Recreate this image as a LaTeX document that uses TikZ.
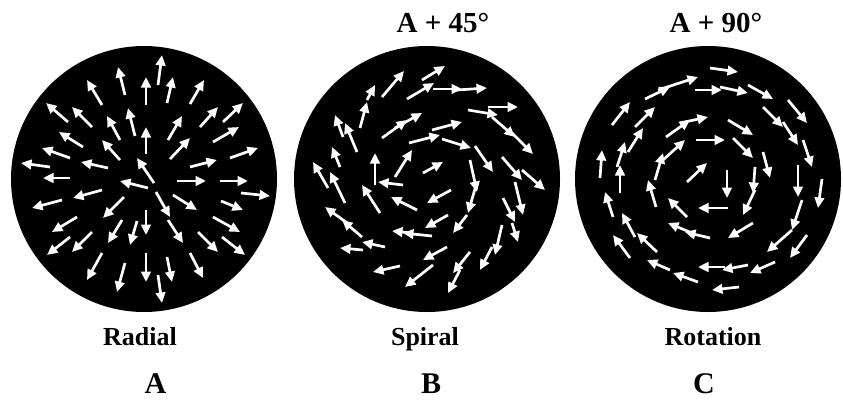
\documentclass[tikz,border=0pt]{standalone}
\usepackage{fontspec}
\setmainfont{Liberation Serif}
\usetikzlibrary{arrows.meta}
\tikzset{
  disc/.style={circle, fill=black, draw=none, minimum size=266pt, inner sep=0pt},
  vec/.style={draw=white, line width=2.7pt, -{Triangle[length=10.5pt,width=9.5pt]}},
  lbl/.style={font=\fontsize{26}{30}\selectfont\bfseries, anchor=base, inner sep=0pt},
  ttl/.style={font=\fontsize{29}{32}\selectfont\bfseries, anchor=base, inner sep=0pt},
  let/.style={font=\fontsize{30}{34}\selectfont\bfseries, anchor=base, inner sep=0pt}
}
\begin{document}
\begin{tikzpicture}[x=1pt,y=-1pt]
\useasboundingbox (0,0) rectangle (843,399);
\fill[white] (0,0) rectangle (843,399);
\node[disc] (discA) at (144,179) {};
\node[disc] (discB) at (427,179) {};
\node[disc] (discC) at (708,179) {};
% Radial
\foreach \a/\b/\c/\d in {158/85/162/55,125/95/118/67,146/105/146/77,167/103/173/77,102/105/87/80,190/104/204/80,68/122/46/103,92/127/72/107,223/122/243/103,200/127/218/107,135/136/128/108,120/140/107/116,146/154/146/127,168/140/182/116,83/147/59/132,213/142/239/127,120/160/102/140,170/159/190/138,70/158/42/148,230/158/258/148,50/167/21/163,108/168/81/162,154/183/137/158,190/167/217/160,70/178/43/178,148/188/120/181,177/181/206/181,220/181/248/181,241/193/270/196,62/200/32/208,102/190/73/198,173/195/197/210,156/192/170/217,221/201/243/210,124/197/103/218,146/210/146/235,77/217/52/232,213/217/240/232,122/220/108/243,137/221/130/245,168/220/183/243,70/237/47/255,92/232/72/252,198/232/218/252,222/237/245/255,102/253/87/280,146/253/146/282,167/257/172/282,190/253/203/278,125/263/117/292,158/275/162/303}
  \draw[vec] (\a,\b) -- (\c,\d);
% Spiral
\foreach \a/\b/\c/\d in {422/80/445/66,382/97/404/71,407/99/434/83,433/89/462/89,457/90/487/88,360/128/367/102,367/100/375/85,343/137/335/115,357/152/345/123,488/107/518/107,468/110/498/115,382/138/407/120,395/128/422/113,432/130/462/122,409/143/440/135,442/139/471/148,492/117/515/137,512/133/533/154,340/167/332/147,328/188/313/162,375/185/375/153,395/177/412/150,423/173/443/162,475/146/493/172,502/157/522/180,522/170/545/190,403/185/378/182,345/203/330/172,380/213/362/185,417/210/391/197,451/190/427/203,470/160/477/192,477/182/468/213,515/182/523/215,503/198/515/222,512/223/518/242,467/215/453/233,448/215/425/228,432/236/403/233,412/233/392/231,362/237/342/220,350/225/325/207,385/247/362/242,363/250/340/248,447/247/423/260,400/266/373/272,433/265/405/287,470/252/453/273,460/270/448/293,502/225/495/255,492/247/480/270}
  \draw[vec] (\a,\b) -- (\c,\d);
% Rotation
\foreach \a/\b/\c/\d in {710/68/738/72,645/99/670/87,658/90/698/77,695/90/722/90,720/87/748/93,748/85/773/99,612/125/630/102,635/127/655/107,763/107/783/127,788/100/807/123,666/137/690/120,680/123/708/117,728/120/753/135,628/152/643/128,617/167/625/142,696/140/725/140,783/122/798/145,733/138/753/158,803/140/812/167,663/160/685/140,655/180/663/153,687/182/707/163,727/170/727/198,763/152/770/178,600/178/602/150,620/193/620/165,798/165/798/197,822/179/818/208,755/167/753/193,755/190/743/215,656/207/648/180,613/217/605/192,802/200/792/230,728/208/698/208,687/217/668/198,635/237/622/213,753/223/728/238,792/230/767/252,710/238/685/232,692/233/668/223,657/252/637/233,630/258/613/235,807/235/790/258,775/262/750/273,748/265/722/270,725/267/698/267,698/282/673/273,670/270/647/260,739/287/712/290}
  \draw[vec] (\a,\b) -- (\c,\d);
% Labels
\node[ttl] (tB) at (443,32) {A + 45°};
\node[ttl] (tC) at (716,32) {A + 90°};
\node[lbl] (lA) at (140,345) {Radial};
\node[lbl] (lB) at (425,345) {Spiral};
\node[lbl] (lC) at (713,345) {Rotation};
\node[let] (cA) at (155.5,393) {A};
\node[let] (cB) at (431,393) {B};
\node[let] (cC) at (704,393) {C};
\end{tikzpicture}
\end{document}
